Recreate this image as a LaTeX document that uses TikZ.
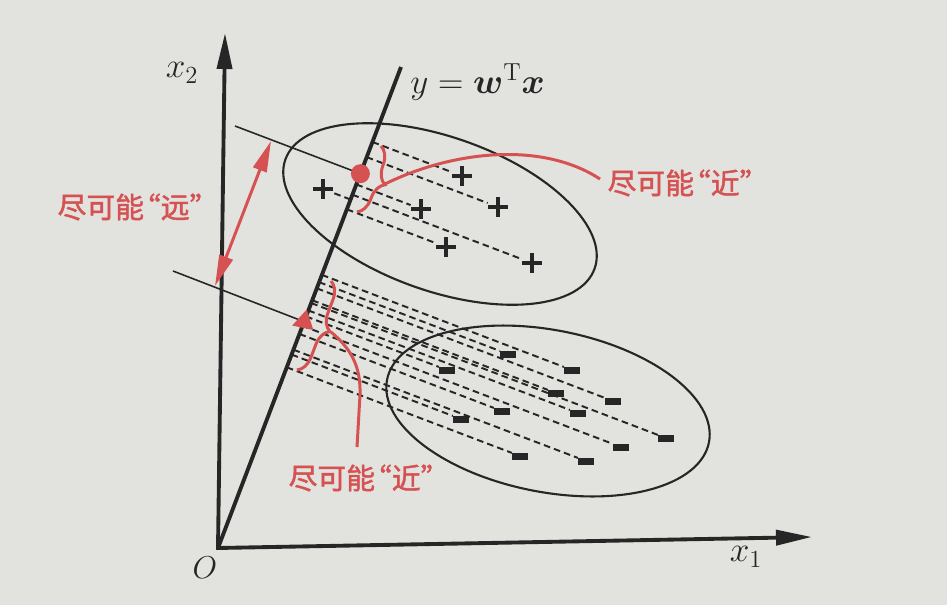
\RequirePackage{fix-cm}
\documentclass[tikz,border=0pt]{standalone}
\usepackage{fontspec}
\usepackage{amsmath}
\usepackage{bm}
\newfontfamily\cjk[FakeBold=1.6]{Noto Sans CJK SC}
\newcommand{\cjklq}{\kern-0.42em“}
\usetikzlibrary{arrows.meta,calc,decorations.pathreplacing,shapes.geometric}
\definecolor{paper}{RGB}{226,226,222}
\definecolor{ink}{RGB}{38,38,38}
\definecolor{redink}{RGB}{214,82,82}
\begin{document}
\begin{tikzpicture}[x=0.02cm,y=-0.02cm,
  guide/.style={draw=ink, line width=0.9pt},
  oval/.style={draw=ink, line width=1.2pt},
  proj/.style={draw=ink, line width=1.1pt, dash pattern=on 3.8pt off 2.3pt},
  plusmark/.style={inner sep=0pt, minimum size=0.4cm,
    path picture={\draw[ink, line width=2pt]
      (path picture bounding box.north) -- (path picture bounding box.south)
      (path picture bounding box.west) -- (path picture bounding box.east);}},
  minusmark/.style={inner sep=0pt, minimum width=0.31cm, minimum height=0.14cm, fill=ink},
  axisline/.style={draw=ink, line width=2.2pt, line join=miter},
  redline/.style={draw=redink, line width=1.7pt},
  bracestyle/.style={redline, decorate, decoration={brace, amplitude=0.34cm}},
  redlabel/.style={text=redink, font=\cjk\fontsize{16.4}{18}\selectfont, inner sep=0pt},
  mathlabel/.style={text=ink, font=\fontsize{20}{24}\selectfont, inner sep=0pt}
]
\fill[paper] (0,0) rectangle (947,605);
\useasboundingbox (0,0) rectangle (947,605);

% main coordinates
\coordinate (O) at (218,548);
\coordinate (Wt) at (401,67);
\coordinate (Yt) at (225,33);
\coordinate (Xt) at (812,537);

% ellipses
\draw[oval, rotate around={-19.4:(440,214)}] (440,214) ellipse [x radius=3.28cm, y radius=1.54cm];
\draw[oval, rotate around={-11:(548,411)}] (548,411) ellipse [x radius=3.28cm, y radius=1.62cm];

% positive samples
\node[plusmark] (p1) at (323,189) {};
\node[plusmark] (p2) at (462,176) {};
\node[plusmark] (p3) at (498,207) {};
\node[plusmark] (p4) at (421,209) {};
\node[plusmark] (p5) at (446,247) {};
\node[plusmark] (p6) at (532,263) {};

% negative samples
\node[minusmark] (m1) at (508,354) {};
\node[minusmark] (m2) at (447,370) {};
\node[minusmark] (m3) at (572,370) {};
\node[minusmark] (m4) at (556,393) {};
\node[minusmark] (m5) at (613,401) {};
\node[minusmark] (m6) at (502,411) {};
\node[minusmark] (m7) at (578,413) {};
\node[minusmark] (m8) at (461,419) {};
\node[minusmark] (m9) at (666,438) {};
\node[minusmark] (m10) at (621,447) {};
\node[minusmark] (m11) at (520,456) {};
\node[minusmark] (m12) at (586,461) {};

% projections
\foreach \n in {p1,p2,p3,p4,p5,p6,m1,m2,m3,m4,m5,m6,m7,m8,m9,m10,m11,m12}
  \draw[proj] ($(O)!(\n)!(Wt)$) -- (\n);

% projected means and guide lines
\coordinate (mp) at ($(O)!(364,175)!(Wt)$);
\coordinate (mn) at ($(O)!(305,322)!(Wt)$);
\coordinate (gp) at (235,126);
\coordinate (gn) at (173,271);
\draw[guide] (gp) -- (mp);
\draw[guide] (gn) -- (mn);

% axes
\draw[axisline, {Triangle[length=0.72cm,width=0.3cm]}-{Triangle[length=0.72cm,width=0.3cm]}] (Yt) -- (O) -- (Xt);
\draw[draw=ink, line width=2.2pt] (O) -- (Wt);

% red marks
\node[circle, fill=redink, minimum size=0.38cm, inner sep=0pt] (dotp) at (mp) {};
\node[regular polygon, regular polygon sides=3, fill=redink, minimum size=0.5cm, inner sep=0pt, rotate=-12] (trin) at (mn) {};

% far arrow
\coordinate (fa) at (215,286);
\coordinate (fb) at (271,141);
\draw[redline, {Triangle[length=0.62cm,width=0.28cm]}-{Triangle[length=0.62cm,width=0.28cm]}] (fa) -- (fb);

% braces
\coordinate (b1s) at (381,146);
\coordinate (b1e) at (357,212);
\coordinate (b2s) at (331,281);
\coordinate (b2e) at (297,370);
\draw[bracestyle] (b1s) -- (b1e);
\draw[bracestyle] (b2s) -- (b2e);

% labels
\node[redlabel] (far) at (138,207) {尽可能\cjklq 远”};
\node[redlabel] (near1) at (688,183) {尽可能\cjklq 近”};
\node[redlabel] (near2) at (369,478) {尽可能\cjklq 近”};

% red leader curves
\coordinate (t1) at (385,184);
\coordinate (t2) at (331,332);
\coordinate (t1e) at (600,179);
\coordinate (t2e) at (357,447);
\draw[redline] (t1) .. controls (450,152) and (540,140) .. (t1e);
\draw[redline] (t2) .. controls (350,348) and (361,365) .. (360,395) -- (t2e);

\node[mathlabel, anchor=west] (wlab) at (410,82) {$y=\bm{w}^{\mathrm{T}}\bm{x}$};
\node[mathlabel] (x2) at (182,73) {$x_2$};
\node[mathlabel] (x1) at (746,557) {$x_1$};
\node[mathlabel, font=\fontsize{18}{22}\selectfont] (o) at (205,568) {$O$};
\end{tikzpicture}
\end{document}
